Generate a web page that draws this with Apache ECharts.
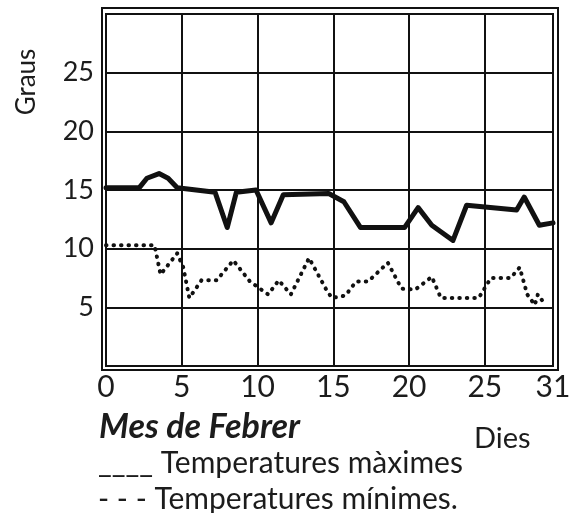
<!DOCTYPE html>
<html>
<head>
<meta charset="utf-8">
<script src="https://cdn.jsdelivr.net/npm/echarts@6/dist/echarts.min.js"></script>
<style>
  html, body { margin: 0; padding: 0; background: #fff; }
  #chart { width: 582px; height: 513px; }
</style>
</head>
<body>
<div id="chart"></div>
<script>
// drawn scale: the frame ends a little before day 31, labelled "31"
const xTickLabels = ['0', '5', '10', '15', '20', '25', '31']
const yTickLabels = ['', '5', '10', '15', '20', '25', '']

// temperatures maximes (day position, graus)
const maxDays  = [0, 2.2, 2.7, 3.5, 4.1, 4.7, 7.2, 8.0, 8.6, 9.9, 10.9, 11.7, 14.7, 15.7, 16.8, 19.7, 20.6, 21.5, 22.9, 23.8, 27.1, 27.6, 28.6, 29.5]
const maxTemps = [15.2, 15.2, 16.0, 16.4, 16.0, 15.2, 14.8, 11.8, 14.8, 15.0, 12.2, 14.6, 14.7, 14.0, 11.8, 11.8, 13.5, 12.0, 10.7, 13.7, 13.3, 14.4, 12.0, 12.2]

// temperatures minimes
const minDays  = [0, 3.2, 3.6, 4.7, 5.1, 5.5, 6.3, 7.3, 8.4, 9.5, 10.7, 11.4, 12.2, 13.4, 14.5, 14.9, 15.8, 16.5, 17.3, 18.6, 19.5, 20.4, 21.5, 22.1, 24.6, 25.4, 26.7, 27.3, 27.8, 28.3, 28.5, 29.0]
const minTemps = [10.3, 10.3, 7.8, 9.6, 8.4, 5.8, 7.3, 7.3, 9.0, 7.2, 6.1, 7.3, 6.1, 9.2, 6.6, 5.8, 6.0, 7.2, 7.2, 8.8, 6.6, 6.5, 7.6, 5.8, 5.8, 7.5, 7.5, 8.4, 6.1, 5.2, 6.1, 5.2]

const G = { left: 106, top: 14, width: 447, height: 352 }
const FONT = 'Lato'
const INK = '#1c1c1c'

const chart = echarts.init(document.getElementById('chart'))
chart.setOption({
  backgroundColor: '#fff',
  animation: false,
  grid: { left: G.left, top: G.top, width: G.width, height: G.height, show: true, borderColor: '#111', borderWidth: 2 },
  xAxis: {
    type: 'value', min: 0, max: 29.5, interval: 5,
    axisLine: { show: false }, axisTick: { show: false },
    splitLine: { lineStyle: { color: '#111', width: 2 } },
    axisLabel: { color: INK, fontFamily: FONT, fontSize: 30, margin: 6, showMaxLabel: true, formatter: (v, i) => xTickLabels[i] }
  },
  yAxis: {
    type: 'value', min: 0, max: 30, interval: 5,
    axisLine: { show: false }, axisTick: { show: false },
    splitLine: { lineStyle: { color: '#111', width: 2 } },
    axisLabel: { color: INK, fontFamily: FONT, fontSize: 27, margin: 12, formatter: (v, i) => yTickLabels[i] }
  },
  series: [
    {
      name: 'Temperatures màximes', type: 'line', symbol: 'none',
      data: maxDays.map((d, i) => [d, maxTemps[i]]),
      lineStyle: { color: '#111', width: 5, join: 'round', cap: 'round' }
    },
    {
      name: 'Temperatures mínimes', type: 'line', symbol: 'none',
      data: minDays.map((d, i) => [d, minTemps[i]]),
      lineStyle: { color: '#111', width: 4, type: [0.5, 7], cap: 'round', join: 'round' }
    }
  ],
  graphic: [
    { type: 'rect', shape: { x: G.left - 4, y: G.top - 6, width: G.width + 9, height: G.height + 10 }, style: { fill: 'none', stroke: '#111', lineWidth: 2 } },
    { type: 'text', x: 27, y: 82, rotation: Math.PI / 2, style: { text: 'Graus', font: '26px Lato', fill: INK, align: 'center', verticalAlign: 'middle' } },
    { type: 'text', x: 99, y: 410, style: { text: 'Mes de Febrer', font: 'italic bold 34px Lato', fill: INK } },
    { type: 'text', x: 474, y: 424, style: { text: 'Dies', font: '29px Lato', fill: INK } },
    { type: 'text', x: 98, y: 448, style: { text: '____ Temperatures màximes', font: '30px Lato', fill: INK } },
    { type: 'text', x: 98, y: 484, style: { text: '- - - Temperatures mínimes.', font: '30px Lato', fill: INK } }
  ]
})
</script>
</body>
</html>
